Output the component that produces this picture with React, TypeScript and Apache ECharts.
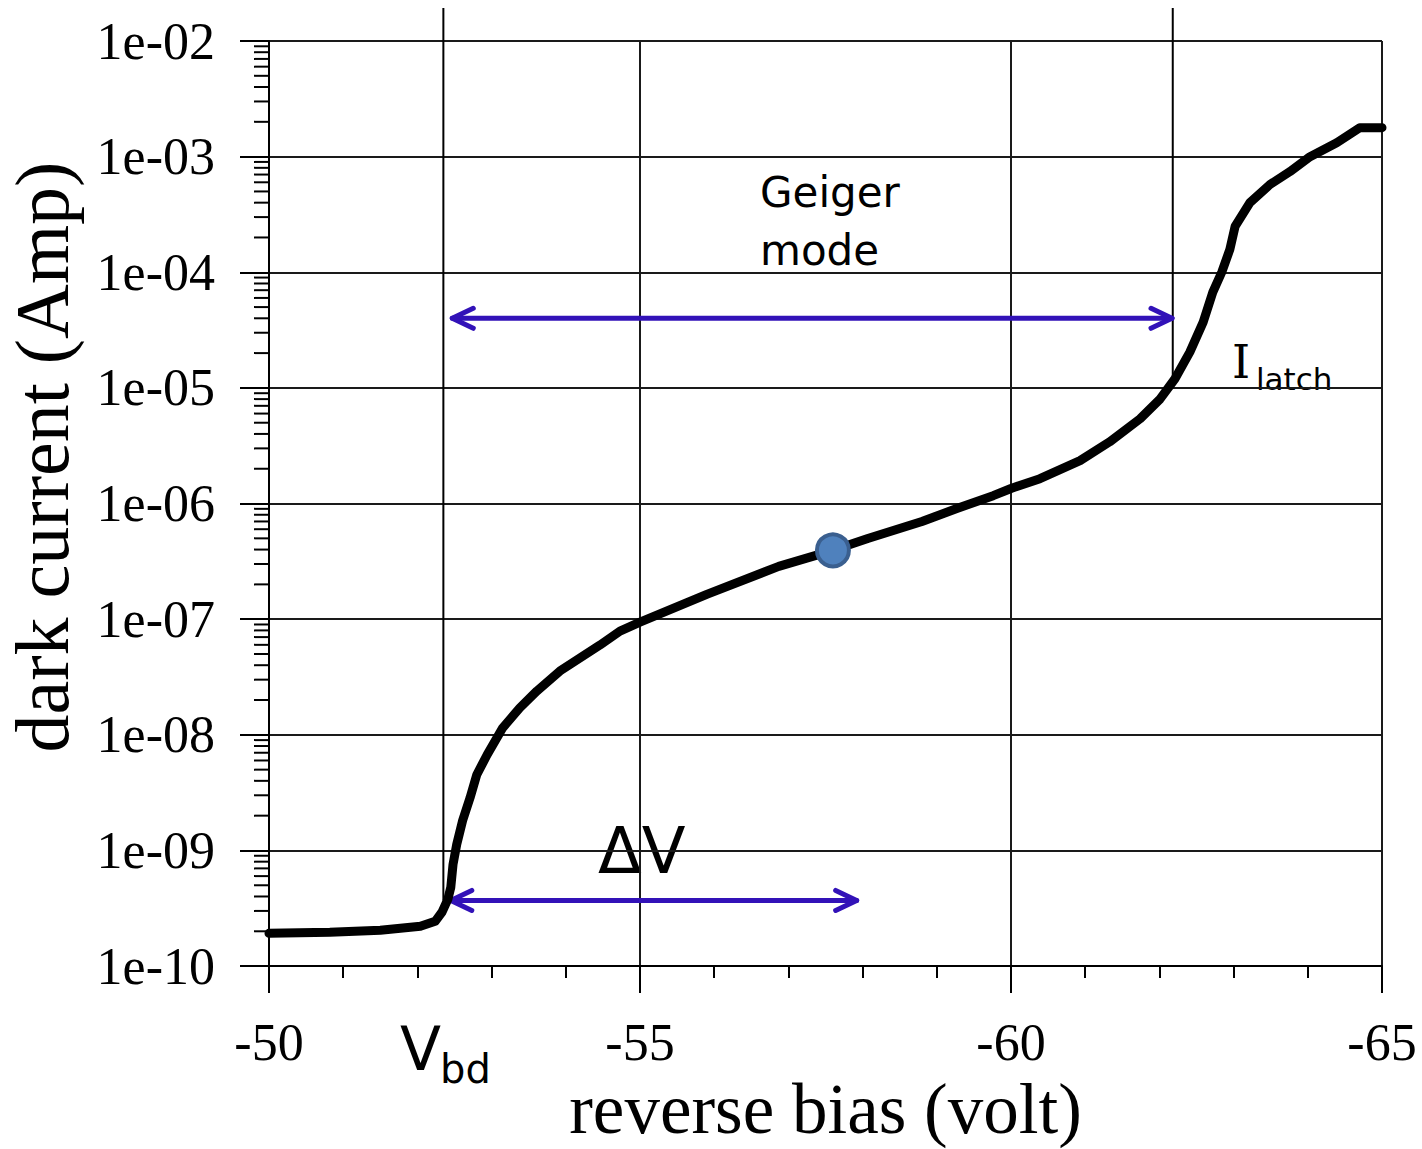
import React, { useEffect, useRef } from 'react';
import * as echarts from 'echarts';

// ---- data ----
const biasVolt = [
  -50.0, -50.82, -51.5, -52.04, -52.24, -52.33, -52.41, -52.45, -52.48, -52.53,
  -52.61, -52.71, -52.8, -52.94, -53.15, -53.38, -53.61, -53.92, -54.19, -54.46,
  -54.73, -55.0, -55.9, -56.87, -57.6, -58.07, -58.8, -59.27, -59.76, -60.0,
  -60.39, -60.93, -61.33, -61.74, -62.01, -62.21, -62.41, -62.59, -62.72, -62.84,
  -62.95, -63.02, -63.22, -63.49, -63.76, -64.03, -64.39, -64.7, -65.0,
];
const darkCurrent = [
  1.92e-10, 1.96e-10, 2.04e-10, 2.21e-10, 2.44e-10, 2.92e-10, 3.78e-10, 4.8e-10, 7.57e-10, 1.13e-9,
  1.82e-9, 2.86e-9, 4.52e-9, 6.73e-9, 1.15e-8, 1.71e-8, 2.39e-8, 3.56e-8, 4.61e-8, 5.97e-8,
  7.89e-8, 9.42e-8, 1.64e-7, 2.86e-7, 3.94e-7, 4.99e-7, 7.0e-7, 9.06e-7, 1.17e-6, 1.35e-6,
  1.64e-6, 2.35e-6, 3.42e-6, 5.41e-6, 8.03e-6, 1.2e-5, 2.04e-5, 3.71e-5, 6.73e-5, 1.0e-4,
  1.58e-4, 2.49e-4, 4.01e-4, 5.74e-4, 7.43e-4, 1.0e-3, 1.32e-3, 1.78e-3, 1.78e-3,
];
const markerVolt = [-57.6];
const markerCurrent = [3.94e-7];

const xMin = -65;
const xMax = -50;
const xInterval = 5;
const yTickLabels = ['1e-10', '1e-09', '1e-08', '1e-07', '1e-06', '1e-05', '1e-04', '1e-03', '1e-02'];
const yDecadeExponents = [-10, -9, -8, -7, -6, -5, -4, -3];
const yMinorMultipliers = [2, 3, 4, 5, 6, 7, 8, 9];

// annotations
const vbdVolt = -52.35;
const latchVolt = -62.18;
const guideTopCurrent = 1.93e-2;
const latchLineBottomCurrent = 1e-5;
const geigerArrowVolt = [-52.47, -62.17];
const geigerArrowCurrent = 4.0e-5;
const deltaArrowVolt = [-52.45, -57.92];
const deltaArrowCurrent = 3.7e-10;

const SERIF = "'Liberation Serif', 'Times New Roman', serif";
const HAND = "'Comic Sans MS', 'DejaVu Sans', sans-serif";
const ARROW_BLUE = '#3212b8';

const yMinorTickValues: number[][] = [];
yDecadeExponents.forEach((e) => {
  yMinorMultipliers.forEach((m) => {
    yMinorTickValues.push([xMax, m * Math.pow(10, e)]);
  });
});

export default function App() {
  const ref = useRef<HTMLDivElement>(null);

  useEffect(() => {
    if (!ref.current) return;
    const chart = echarts.init(ref.current, null, { renderer: 'svg' });

    const arrowParts = (api: any, v0: number, v1: number, cur: number) => {
      const a = api.coord([v0, cur]);
      const b = api.coord([v1, cur]);
      const dir = Math.sign(b[0] - a[0]) || 1;
      const st = { stroke: ARROW_BLUE, lineWidth: 5, lineCap: 'round', lineJoin: 'round', fill: null };
      return [
        { type: 'line', shape: { x1: a[0], y1: a[1], x2: b[0], y2: b[1] }, style: st },
        {
          type: 'polyline',
          shape: { points: [[a[0] + dir * 21, a[1] - 10], [a[0], a[1]], [a[0] + dir * 21, a[1] + 10]] },
          style: st,
        },
        {
          type: 'polyline',
          shape: { points: [[b[0] - dir * 21, b[1] - 10], [b[0], b[1]], [b[0] - dir * 21, b[1] + 10]] },
          style: st,
        },
      ];
    };

    const option: any = {
      animation: false,
      backgroundColor: '#ffffff',
      grid: { left: 269, top: 41, width: 1113, height: 932, containLabel: false },
      xAxis: {
        type: 'value',
        min: xMin,
        max: xMax,
        interval: xInterval,
        inverse: true,
        axisLine: { show: true, onZero: false, lineStyle: { color: '#000', width: 2 } },
        axisTick: { show: true, length: 27, lineStyle: { color: '#000', width: 2 } },
        minorTick: { show: true, splitNumber: 5, length: 12, lineStyle: { color: '#000', width: 2 } },
        splitLine: { show: true, lineStyle: { color: '#1a1a1a', width: 2 } },
        axisLabel: {
          show: true,
          showMinLabel: true,
          showMaxLabel: true,
          fontFamily: SERIF,
          fontSize: 52,
          color: '#000',
          margin: 50,
        },
        name: 'reverse bias (volt)',
        nameLocation: 'middle',
        nameGap: 105,
        nameTextStyle: { fontFamily: SERIF, fontSize: 71, color: '#000' },
      },
      yAxis: {
        type: 'log',
        logBase: 10,
        min: 1e-10,
        max: 1e-2,
        splitNumber: 8,
        axisLine: { show: true, onZero: false, lineStyle: { color: '#000', width: 2 } },
        axisTick: { show: true, length: 29, lineStyle: { color: '#000', width: 2 } },
        splitLine: { show: true, lineStyle: { color: '#1a1a1a', width: 2 } },
        axisLabel: {
          show: true,
          showMinLabel: true,
          showMaxLabel: true,
          fontFamily: SERIF,
          fontSize: 52,
          color: '#000',
          margin: 54,
          padding: [0, 0, 7, 0],
          formatter: (v: number) => {
            const idx = Math.round(Math.log10(v)) + 10;
            return yTickLabels[idx] ?? '';
          },
        },
      },
      series: [
        {
          name: 'minor ticks',
          type: 'custom',
          clip: false,
          silent: true,
          data: yMinorTickValues,
          renderItem: (params: any, api: any) => {
            const p = api.coord([api.value(0), api.value(1)]);
            return {
              type: 'line',
              shape: { x1: p[0] - 15, y1: p[1], x2: p[0], y2: p[1] },
              style: { stroke: '#000', lineWidth: 2 },
            };
          },
        },
        {
          name: 'annotations',
          type: 'custom',
          clip: false,
          silent: true,
          data: [[xMax, 1e-10]],
          renderItem: (params: any, api: any) => {
            const vb0 = api.coord([vbdVolt, deltaArrowCurrent]);
            const vb1 = api.coord([vbdVolt, guideTopCurrent]);
            const l0 = api.coord([latchVolt, latchLineBottomCurrent]);
            const l1 = api.coord([latchVolt, guideTopCurrent]);
            const lineSt = { stroke: '#000', lineWidth: 2 };
            return {
              type: 'group',
              children: [
                { type: 'line', shape: { x1: vb0[0], y1: vb0[1], x2: vb1[0], y2: vb1[1] }, style: lineSt },
                { type: 'line', shape: { x1: l0[0], y1: l0[1], x2: l1[0], y2: l1[1] }, style: lineSt },
                ...arrowParts(api, geigerArrowVolt[0], geigerArrowVolt[1], geigerArrowCurrent),
                ...arrowParts(api, deltaArrowVolt[0], deltaArrowVolt[1], deltaArrowCurrent),
              ],
            };
          },
        },
        {
          name: 'dark current',
          type: 'line',
          data: biasVolt.map((v, i) => [v, darkCurrent[i]]),
          showSymbol: false,
          symbol: 'none',
          smooth: false,
          lineStyle: { color: '#000', width: 9, join: 'round', cap: 'round' },
          z: 3,
        },
        {
          name: 'operating point',
          type: 'scatter',
          data: markerVolt.map((v, i) => [v, markerCurrent[i]]),
          symbol: 'circle',
          symbolSize: 32,
          itemStyle: { color: '#4f81bd', borderColor: '#3a5f8f', borderWidth: 4, opacity: 1 },
          z: 4,
        },
      ],
      graphic: [
        {
          type: 'text',
          x: 42,
          y: 457,
          rotation: Math.PI / 2,
          style: {
            text: 'dark current (Amp)',
            fontFamily: SERIF,
            fontSize: 76,
            fill: '#000',
            align: 'center',
            verticalAlign: 'middle',
          },
        },
        {
          type: 'text',
          x: 760,
          y: 192,
          style: { text: 'Geiger', fontFamily: HAND, fontSize: 42, fill: '#000', align: 'left', verticalAlign: 'middle' },
        },
        {
          type: 'text',
          x: 760,
          y: 250,
          style: { text: 'mode', fontFamily: HAND, fontSize: 42, fill: '#000', align: 'left', verticalAlign: 'middle' },
        },
        {
          type: 'text',
          x: 598,
          y: 851,
          style: { text: 'ΔV', fontFamily: HAND, fontSize: 64, fill: '#000', align: 'left', verticalAlign: 'middle' },
        },
        {
          type: 'text',
          x: 400,
          y: 1049,
          style: { text: 'V', fontFamily: HAND, fontSize: 60, fill: '#000', align: 'left', verticalAlign: 'middle' },
        },
        {
          type: 'text',
          x: 440,
          y: 1069,
          style: { text: 'bd', fontFamily: HAND, fontSize: 40, fill: '#000', align: 'left', verticalAlign: 'middle' },
        },
        {
          type: 'text',
          x: 1232,
          y: 362,
          style: {
            text: 'I',
            fontFamily: "'DejaVu Serif', serif",
            fontSize: 46,
            fill: '#000',
            align: 'left',
            verticalAlign: 'middle',
          },
        },
        {
          type: 'text',
          x: 1256,
          y: 379,
          style: { text: 'latch', fontFamily: HAND, fontSize: 31, fill: '#000', align: 'left', verticalAlign: 'middle' },
        },
      ],
    };

    chart.setOption(option);
    return () => {
      chart.dispose();
    };
  }, []);

  return (
    <div
      ref={ref}
      style={{ position: 'absolute', left: 0, top: 0, width: 1422, height: 1149, background: '#fff' }}
    />
  );
}
